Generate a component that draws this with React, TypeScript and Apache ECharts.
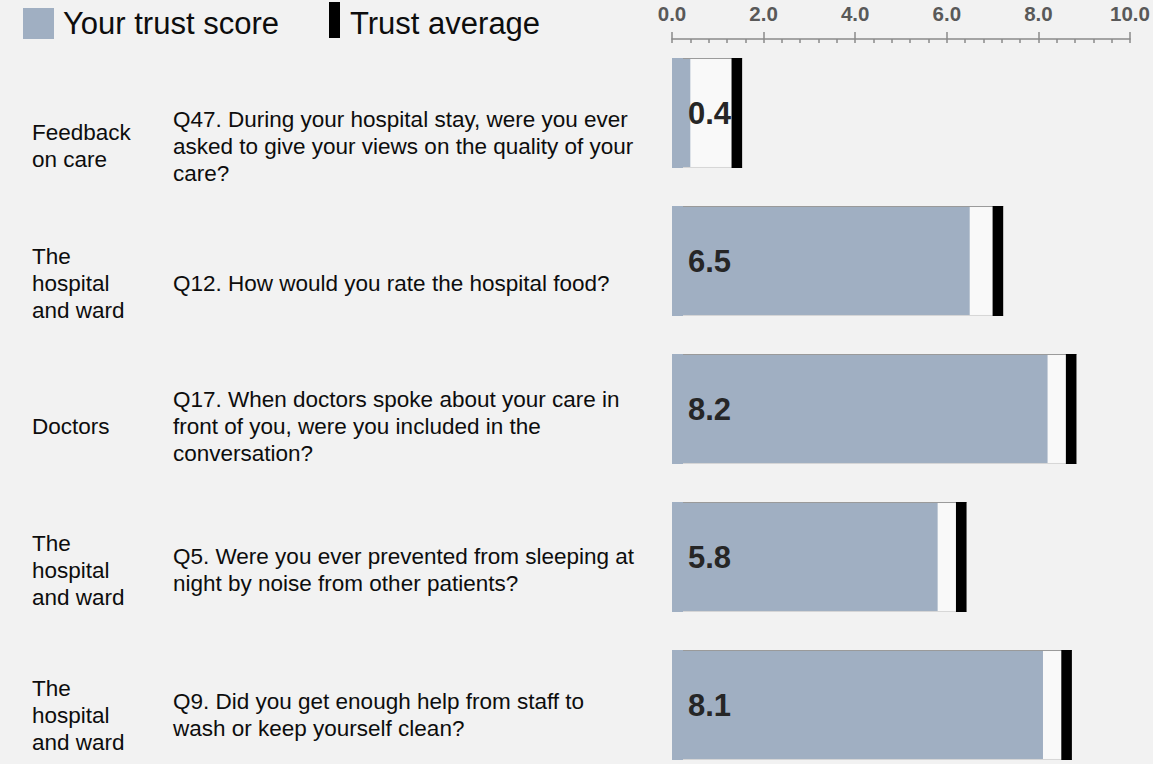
import React, { useEffect, useRef } from "react";
import * as echarts from "echarts";

// ---- data ----
const topics = [
  "Feedback\non care",
  "The\nhospital\nand ward",
  "Doctors",
  "The\nhospital\nand ward",
  "The\nhospital\nand ward",
];
const questions = [
  "Q47. During your hospital stay, were you ever\nasked to give your views on the quality of your\ncare?",
  "Q12. How would you rate the hospital food?",
  "Q17. When doctors spoke about your care in\nfront of you, were you included in the\nconversation?",
  "Q5. Were you ever prevented from sleeping at\nnight by noise from other patients?",
  "Q9. Did you get enough help from staff to\nwash or keep yourself clean?",
];
const trustScores = [0.4, 6.5, 8.2, 5.8, 8.1];
const trustAverages = [1.3, 7.0, 8.6, 6.2, 8.5];
const axisMin = 0;
const axisMax = 10;
const axisStep = 2;
const legendLabels = ["Your trust score", "Trust average"];

// ---- layout (not data) ----
const textCentersY = [146, 283, 426, 570, 715];
const FONT = '"Liberation Sans", Arial, Helvetica, sans-serif';
const BLUE = "#a0afc2";
const ROW_PITCH = 148;
const GRID_TOP = 39;
const CHART_H = 764;

export default function App() {
  const ref = useRef<HTMLDivElement>(null);

  useEffect(() => {
    if (!ref.current) return;
    const chart = echarts.init(ref.current, undefined, { renderer: "svg" });

    const seriesData = trustScores.map((s, i) => [s, i, trustAverages[i]]);
    // y value axis: row i centred at i, each row spans one unit (ROW_PITCH px)
    const yMin = -0.5;
    const yMax = yMin + (CHART_H - GRID_TOP) / ROW_PITCH;

    const graphics: any[] = [
      { type: "rect", shape: { x: 23, y: 8, width: 31, height: 31 }, style: { fill: BLUE } },
      {
        type: "text",
        style: { text: legendLabels[0], x: 63, y: 23, verticalAlign: "middle", fontSize: 31, fontFamily: FONT, fill: "#0d0d0d" },
      },
      { type: "rect", shape: { x: 329, y: 2, width: 11, height: 36 }, style: { fill: "#000" } },
      {
        type: "text",
        style: { text: legendLabels[1], x: 350, y: 23, verticalAlign: "middle", fontSize: 31, fontFamily: FONT, fill: "#0d0d0d" },
      },
    ];
    topics.forEach((t, i) => {
      graphics.push({
        type: "text",
        style: { text: t, x: 32, y: textCentersY[i], verticalAlign: "middle", fontSize: 22.5, lineHeight: 27, fontFamily: FONT, fill: "#0d0d0d" },
      });
      graphics.push({
        type: "text",
        style: { text: questions[i], x: 173, y: textCentersY[i], verticalAlign: "middle", fontSize: 22.5, lineHeight: 27, fontFamily: FONT, fill: "#0d0d0d" },
      });
    });

    chart.setOption({
      animation: false,
      backgroundColor: "#f2f2f2",
      grid: { left: 672, width: 458, top: GRID_TOP, bottom: 0, containLabel: false },
      xAxis: [
        {
          type: "value",
          position: "top",
          min: axisMin,
          max: axisMax,
          interval: axisStep,
          axisLine: { show: true, onZero: false, lineStyle: { color: "#8a8a8a", width: 1.5 } },
          axisTick: { show: true, inside: true, length: 4, lineStyle: { color: "#8a8a8a", width: 1.5 } },
          minorTick: { show: true, splitNumber: 5, length: 4, lineStyle: { color: "#8a8a8a", width: 1.5 } },
          splitLine: { show: false },
          axisLabel: {
            margin: 15,
            fontSize: 20.5,
            fontWeight: "bold",
            fontFamily: FONT,
            color: "#595959",
            formatter: (v: number) => v.toFixed(1),
          },
        },
        {
          type: "value",
          position: "top",
          min: axisMin,
          max: axisMax,
          interval: axisStep,
          axisLine: { show: false, onZero: false },
          axisTick: { show: true, inside: false, length: 7, lineStyle: { color: "#8a8a8a", width: 1.5 } },
          axisLabel: { show: false },
          splitLine: { show: false },
        },
      ],
      yAxis: {
        type: "value",
        inverse: true,
        min: yMin,
        max: yMax,
        axisLine: { show: false, onZero: false },
        axisTick: { show: false },
        axisLabel: { show: false },
        splitLine: { show: false },
      },
      series: [
        {
          type: "custom",
          xAxisIndex: 0,
          clip: false,
          encode: { x: [0, 2], y: 1 },
          data: seriesData,
          renderItem: (params: any, api: any) => {
            const score = api.value(0);
            const row = api.value(1);
            const avg = api.value(2);
            const [x0, yc] = api.coord([0, row]);
            const xs = api.coord([score, row])[0];
            const xa = api.coord([avg, row])[0];
            const band = api.size([0, 1])[1];
            const h = band * 0.743;
            const y = yc - h / 2;
            const mw = 10.6;
            const boxX = x0 + 11;
            const boxEnd = xa + mw;
            return {
              type: "group",
              children: [
                { type: "rect", shape: { x: boxX, y, width: boxEnd - boxX, height: h }, style: { fill: "#f9f9f9" } },
                { type: "rect", shape: { x: x0, y, width: xs - x0, height: h }, style: { fill: BLUE } },
                { type: "line", shape: { x1: boxX, y1: y + 0.5, x2: boxEnd, y2: y + 0.5 }, style: { stroke: "#9a9a9a", lineWidth: 1 } },
                { type: "line", shape: { x1: boxX, y1: y + h - 0.5, x2: boxEnd, y2: y + h - 0.5 }, style: { stroke: "#d6d6d6", lineWidth: 1 } },
                {
                  type: "text",
                  style: {
                    text: score.toFixed(1),
                    x: x0 + 16,
                    y: yc,
                    verticalAlign: "middle",
                    fontSize: 31,
                    fontWeight: "bold",
                    fontFamily: FONT,
                    fill: "#262626",
                  },
                },
                { type: "rect", shape: { x: xa, y, width: mw, height: h }, style: { fill: "#000" } },
              ],
            };
          },
        },
      ],
      graphic: graphics,
    });

    return () => chart.dispose();
  }, []);

  return (
    <div
      ref={ref}
      style={{ position: "fixed", left: 0, top: 0, width: 1153, height: 764, background: "#f2f2f2" }}
    />
  );
}
